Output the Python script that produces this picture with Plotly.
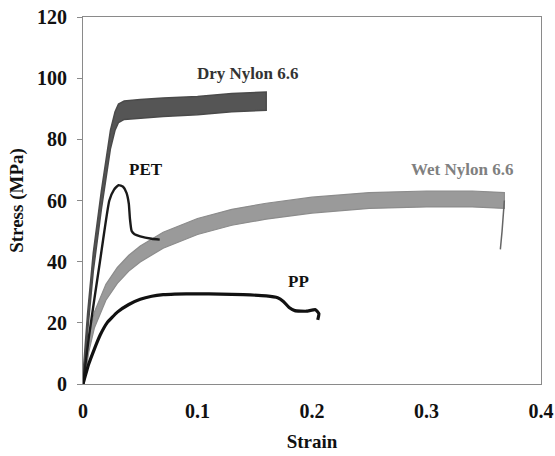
import plotly.graph_objects as go

# ---- data ----
dry_x = [0, 0.004, 0.009, 0.016, 0.024, 0.028, 0.031, 0.036, 0.05, 0.07, 0.1, 0.13, 0.16]
dry_y = [0, 20, 40, 60, 80, 86, 88.5, 89.5, 90, 90.5, 91, 92, 92.5]

wet_x = [0, 0.005, 0.01, 0.02, 0.03, 0.04, 0.05, 0.07, 0.1, 0.13, 0.16, 0.2, 0.25, 0.3, 0.34, 0.368]
wet_y = [0, 13, 21, 30, 35.5, 39.5, 42.5, 47, 51.5, 54.5, 56.5, 58.5, 60, 60.5, 60.5, 60]
wet_tail_x = [0.368, 0.3675, 0.366, 0.3645]
wet_tail_y = [60, 57, 50, 44]

pet_x = [0, 0.005, 0.01, 0.0148, 0.0175, 0.023, 0.027, 0.031, 0.035, 0.038, 0.040, 0.041, 0.0425,
         0.045, 0.05, 0.06, 0.067]
pet_y = [0, 15, 28, 40, 47, 60, 63.5, 65, 64.5, 62.5, 59, 54, 50, 49, 48.3, 47.5, 47.2]

pp_x = [0, 0.005, 0.01, 0.015, 0.021, 0.03, 0.04, 0.05, 0.06, 0.07, 0.08, 0.1, 0.12, 0.14, 0.16,
        0.17, 0.175, 0.18, 0.185, 0.195, 0.203, 0.206, 0.205]
pp_y = [0, 6.5, 11.5, 16, 20, 23.5, 26, 27.7, 28.7, 29.2, 29.4, 29.5, 29.4, 29.2, 28.8,
        28.2, 27, 25, 24, 23.8, 24.3, 23, 21]

band_half = {"dry": 3.0, "wet": 2.6}

labels = [
    ("Dry Nylon 6.6", 0.144, 101.5, "#333333"),
    ("PET", 0.055, 70, "#111111"),
    ("Wet Nylon 6.6", 0.331, 70, "#808080"),
    ("PP", 0.188, 33.5, "#111111"),
]

FONT = "Liberation Serif"

def band(xs, ys, h):
    px = list(xs) + list(reversed(xs))
    py = [v + h for v in ys] + [v - h for v in reversed(ys)]
    return px, py

fig = go.Figure()

bx, by = band(wet_x, wet_y, band_half["wet"])
fig.add_trace(go.Scatter(x=bx, y=by, fill="toself", fillcolor="#9a9a9a",
                         line=dict(color="#8c8c8c", width=1.2), mode="lines", hoverinfo="skip"))
fig.add_trace(go.Scatter(x=wet_tail_x, y=wet_tail_y, mode="lines",
                         line=dict(color="#666666", width=1.5)))

bx, by = band(dry_x, dry_y, band_half["dry"])
fig.add_trace(go.Scatter(x=bx, y=by, fill="toself", fillcolor="#555555",
                         line=dict(color="#4a4a4a", width=1.5), mode="lines", hoverinfo="skip"))

fig.add_trace(go.Scatter(x=pet_x, y=pet_y, mode="lines",
                         line=dict(color="#1a1a1a", width=2.4, shape="spline", smoothing=0.5)))
fig.add_trace(go.Scatter(x=pp_x, y=pp_y, mode="lines",
                         line=dict(color="#111111", width=3.2, shape="spline", smoothing=0.4)))

for txt, x, y, c in labels:
    fig.add_annotation(x=x, y=y, text=f"<b>{txt}</b>", showarrow=False,
                       font=dict(family=FONT, size=17, color=c))

tickfont = dict(family=FONT, size=20, color="#111111", weight="bold")
titlefont = dict(family=FONT, size=19, color="#111111", weight="bold")

fig.update_layout(
    width=555, height=456,
    margin=dict(l=83, r=14, t=17, b=72),
    plot_bgcolor="white", paper_bgcolor="white",
    showlegend=False,
    xaxis=dict(range=[0, 0.4], tickvals=[0, 0.1, 0.2, 0.3, 0.4],
               ticktext=["0", "0.1", "0.2", "0.3", "0.4"],
               title=dict(text="Strain", font=titlefont, standoff=13),
               showgrid=False, zeroline=False, showline=True, linecolor="#8a8a8a",
               linewidth=1, mirror=True, tickfont=tickfont, ticks="",
               ticklabelstandoff=9, automargin=False),
    yaxis=dict(range=[0, 120], tickvals=[0, 20, 40, 60, 80, 100, 120],
               title=dict(text="Stress (MPa)", font=titlefont, standoff=8),
               showgrid=False, zeroline=False, showline=True, linecolor="#8a8a8a",
               linewidth=1, mirror=True, tickfont=tickfont, ticks="outside",
               tickcolor="#8a8a8a", ticklen=5, ticklabelstandoff=6, automargin=False),
)

fig.write_html("out.html")
